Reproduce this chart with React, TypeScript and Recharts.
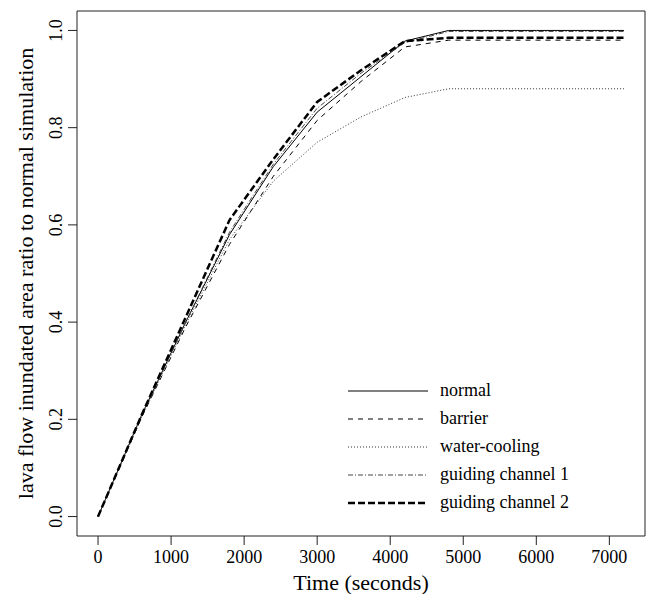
import React from 'react';
import { LineChart, Line, XAxis, YAxis, ReferenceArea, Label } from 'recharts';

// sample times (seconds)
const times = [0, 600, 1200, 1800, 2400, 3000, 3600, 4200, 4800, 5400, 6000, 6600, 7200];

// inundated area ratio per scenario
const normal = [0.0, 0.21, 0.40, 0.58, 0.72, 0.832, 0.905, 0.978, 1.0, 1.0, 1.0, 1.0, 1.0];
const barrier = [0.0, 0.205, 0.39, 0.56, 0.70, 0.815, 0.895, 0.966, 0.98, 0.98, 0.98, 0.98, 0.98];
const waterCooling = [0.0, 0.205, 0.395, 0.57, 0.69, 0.77, 0.822, 0.862, 0.88, 0.88, 0.88, 0.88, 0.88];
const guiding1 = [0.0, 0.21, 0.40, 0.585, 0.725, 0.84, 0.912, 0.975, 0.998, 0.998, 0.998, 0.998, 0.998];
const guiding2 = [0.0, 0.21, 0.41, 0.61, 0.735, 0.853, 0.918, 0.978, 0.985, 0.985, 0.985, 0.985, 0.985];

const xTicks = [0, 1000, 2000, 3000, 4000, 5000, 6000, 7000];
const yTicks = [0, 0.2, 0.4, 0.6, 0.8, 1.0];

const data = times.map((t, i) => ({
    t,
    normal: normal[i],
    barrier: barrier[i],
    waterCooling: waterCooling[i],
    guiding1: guiding1[i],
    guiding2: guiding2[i],
}));

const series = [
    { key: 'normal', name: 'normal', dash: undefined, width: 1, color: '#000' },
    { key: 'barrier', name: 'barrier', dash: '5 5', width: 1, color: '#000' },
    { key: 'waterCooling', name: 'water-cooling', dash: '1 2', width: 1, color: '#333' },
    { key: 'guiding1', name: 'guiding channel 1', dash: '5 2 1 2', width: 1, color: '#444' },
    { key: 'guiding2', name: 'guiding channel 2', dash: '7 3', width: 2.5, color: '#000' },
];

const FONT = '"Liberation Serif", "Times New Roman", serif';
const W = 647;
const H = 594;

const XTick = (props: any) => {
    const { x, y, payload } = props;
    return (
        <text x={x} y={y + 16} textAnchor="middle" fontFamily={FONT} fontSize={18} fill="#000">
            {payload.value}
        </text>
    );
};

const YTick = (props: any) => {
    const { x, y, payload } = props;
    return (
        <text
            x={x - 4}
            y={y}
            transform={`rotate(-90, ${x - 4}, ${y})`}
            textAnchor="middle"
            fontFamily={FONT}
            fontSize={18}
            fill="#000"
        >
            {Number(payload.value).toFixed(1)}
        </text>
    );
};

const LegendBox = () => (
    <svg width={W} height={H} style={{ position: 'absolute', left: 0, top: 0, pointerEvents: 'none' }}>
        {series.map((s, i) => {
            const y = 391 + i * 28;
            return (
                <g key={s.key}>
                    <line x1={348} x2={428} y1={y} y2={y} stroke={s.color} strokeWidth={s.width} strokeDasharray={s.dash} />
                    <text x={440} y={y + 5} fontFamily={FONT} fontSize={18} fill="#000">
                        {s.name}
                    </text>
                </g>
            );
        })}
    </svg>
);

export default function App() {
    return (
        <div style={{ position: 'absolute', left: 0, top: 0, width: W, height: H, background: '#fff' }}>
            <LineChart width={W} height={H} data={data} margin={{ top: 11, right: 2, bottom: 0, left: 0 }}>
                <XAxis
                    dataKey="t"
                    type="number"
                    domain={[-288, 7488]}
                    ticks={xTicks}
                    allowDataOverflow
                    height={58}
                    axisLine={false}
                    tickLine={{ stroke: '#222' }}
                    tickSize={9}
                    tickMargin={2}
                    tick={<XTick />}
                    interval={0}
                >
                    <Label
                        content={(p: any) => {
                            const vb = p.viewBox;
                            return (
                                <text
                                    x={vb.x + vb.width / 2}
                                    y={vb.y + 54}
                                    textAnchor="middle"
                                    fontFamily={FONT}
                                    fontSize={22}
                                    fill="#000"
                                >
                                    Time (seconds)
                                </text>
                            );
                        }}
                    />
                </XAxis>
                <YAxis
                    type="number"
                    domain={[-0.04, 1.04]}
                    ticks={yTicks}
                    allowDataOverflow
                    width={77}
                    axisLine={false}
                    tickLine={{ stroke: '#222' }}
                    tickSize={9}
                    tickMargin={2}
                    tick={<YTick />}
                    interval={0}
                >
                    <Label
                        content={(p: any) => {
                            const vb = p.viewBox;
                            const cx = 33;
                            const cy = vb.y + vb.height / 2;
                            return (
                                <text
                                    x={cx}
                                    y={cy}
                                    transform={`rotate(-90, ${cx}, ${cy})`}
                                    textAnchor="middle"
                                    fontFamily={FONT}
                                    fontSize={22}
                                    fill="#000"
                                >
                                    lava flow inundated area ratio to normal simulation
                                </text>
                            );
                        }}
                    />
                </YAxis>
                <ReferenceArea
                    x1={-288}
                    x2={7488}
                    y1={-0.04}
                    y2={1.04}
                    fill="none"
                    stroke="#222"
                    strokeWidth={1}
                    ifOverflow="visible"
                />
                {series.map((s) => (
                    <Line
                        key={s.key}
                        dataKey={s.key}
                        name={s.name}
                        type="linear"
                        stroke={s.color}
                        strokeWidth={s.width}
                        strokeDasharray={s.dash}
                        dot={false}
                        activeDot={false}
                        isAnimationActive={false}
                    />
                ))}
            </LineChart>
            <LegendBox />
        </div>
    );
}
